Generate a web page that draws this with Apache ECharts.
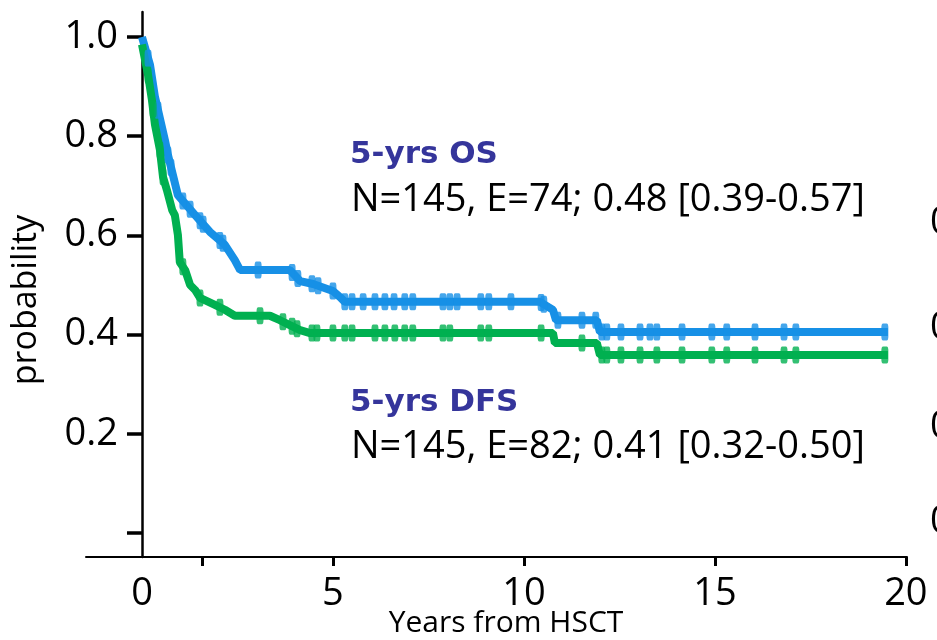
<!DOCTYPE html>
<html>
<head>
<meta charset="utf-8">
<script src="https://cdn.jsdelivr.net/npm/echarts@6/dist/echarts.min.js"></script>
<style>html,body{margin:0;padding:0;background:#fff}#c{width:937px;height:640px}</style>
</head>
<body>
<div id="c"></div>
<script>
// ---- data ----
var osTime  = [0, 0.21, 0.34, 0.6, 0.68, 0.94, 1.39, 1.78, 2.17, 2.43, 2.57, 3.87, 4.14, 4.48, 5.0, 5.18, 5.31, 10.42, 10.76, 10.84, 11.91, 11.99, 19.53];
var osSurv  = [1.0, 0.944, 0.879, 0.792, 0.762, 0.681, 0.641, 0.607, 0.581, 0.550, 0.530, 0.530, 0.508, 0.502, 0.488, 0.476, 0.466, 0.466, 0.450, 0.429, 0.429, 0.405, 0.405];
var dfsTime = [0, 0.16, 0.26, 0.34, 0.47, 0.55, 0.65, 0.79, 0.86, 0.94, 0.99, 1.13, 1.26, 1.39, 1.52, 1.91, 2.17, 2.43, 3.35, 3.61, 3.87, 4.14, 4.40, 10.76, 10.81, 11.91, 11.99, 19.53];
var dfsSurv = [0.985, 0.923, 0.873, 0.823, 0.772, 0.718, 0.692, 0.651, 0.641, 0.601, 0.546, 0.530, 0.500, 0.490, 0.474, 0.460, 0.450, 0.438, 0.438, 0.429, 0.419, 0.409, 0.403, 0.403, 0.383, 0.383, 0.359, 0.359];
var osCensor  = [0.16, 0.42, 0.68, 0.76, 1.07, 1.26, 1.52, 1.60, 2.04, 2.12, 3.04, 3.93, 4.08, 4.45, 4.61, 5.0, 5.31, 5.50, 5.79, 6.10, 6.36, 6.60, 6.88, 7.09, 7.88, 8.06, 8.25, 8.87, 9.08, 9.66, 10.45, 10.52, 10.89, 11.52, 11.88, 12.04, 12.17, 12.54, 13.04, 13.30, 13.48, 14.14, 14.92, 15.31, 16.05, 16.81, 17.12, 19.45];
var dfsCensor = [0.16, 0.29, 0.47, 0.55, 1.07, 1.52, 2.04, 3.09, 3.69, 3.93, 4.06, 4.45, 4.58, 5.0, 5.31, 5.50, 6.10, 6.36, 6.62, 6.88, 7.09, 7.88, 8.06, 8.87, 9.08, 10.45, 11.52, 12.04, 12.17, 12.54, 13.04, 13.48, 14.14, 14.92, 15.31, 16.05, 16.81, 17.12, 19.45];
var xTickValues  = [1.57, 5, 10, 15, 20];
var xLabelValues = [0, 5, 10, 15, 20];
var yTickValues  = [0, 0.2, 0.4, 0.6, 0.8, 1.0];
var yLabelValues = [0.2, 0.4, 0.6, 0.8, 1.0];
var osTitle  = '5-yrs OS';
var osText   = 'N=145, E=74; 0.48 [0.39-0.57]';
var dfsTitle = '5-yrs DFS';
var dfsText  = 'N=145, E=82; 0.41 [0.32-0.50]';
var xName = 'Years from HSCT';
var yName = 'probability';

function pairs(t, s) { return t.map(function (v, i) { return [v, s[i]]; }); }
function valueAt(t, s, x) {
  for (var i = 0; i < t.length - 1; i++) {
    if (x >= t[i] && x <= t[i + 1]) {
      var f = (t[i + 1] - t[i]) === 0 ? 0 : (x - t[i]) / (t[i + 1] - t[i]);
      return s[i] + f * (s[i + 1] - s[i]);
    }
  }
  return s[s.length - 1];
}
function censorPts(c, t, s) { return c.map(function (x) { return [x, valueAt(t, s, x)]; }); }

var BLUE = '#1790e6', GREEN = '#00b050', TXT = '#35359b';
var FONT = '"Open Sans", "Liberation Sans", sans-serif';

var chart = echarts.init(document.getElementById('c'), null, { renderer: 'canvas' });
chart.setOption({
  animation: false,
  backgroundColor: '#fff',
  grid: { left: 86, right: 30, top: 12, bottom: 83, containLabel: false },
  xAxis: {
    type: 'value', min: -1.466, max: 20.03,
    splitLine: { show: false },
    axisLine: { onZero: false, lineStyle: { color: '#000', width: 2 } },
    axisTick: { show: true, customValues: xTickValues, length: 9, lineStyle: { color: '#000', width: 3 } },
    axisLabel: { customValues: xLabelValues, color: '#000', fontSize: 38, fontFamily: FONT, margin: 18 }
  },
  yAxis: {
    type: 'value', min: -0.0484, max: 1.0504,
    splitLine: { show: false },
    axisLine: { onZero: true, lineStyle: { color: '#000', width: 2.5 } },
    axisTick: { show: true, customValues: yTickValues, length: 15, lineStyle: { color: '#000', width: 3.5 } },
    axisLabel: { customValues: yLabelValues, color: '#000', fontSize: 38, fontFamily: FONT, margin: -32,
      formatter: function (v) { return v.toFixed(1); } }
  },
  series: [
    { type: 'line', data: pairs(osTime, osSurv), showSymbol: false, lineStyle: { color: BLUE, width: 8 }, z: 3 },
    { type: 'line', data: pairs(dfsTime, dfsSurv), showSymbol: false, lineStyle: { color: GREEN, width: 8 }, z: 3 },
    { type: 'scatter', data: censorPts(osCensor, osTime, osSurv), symbol: 'roundRect', symbolSize: [7, 17], itemStyle: { color: BLUE }, z: 4 },
    { type: 'scatter', data: censorPts(dfsCensor, dfsTime, dfsSurv), symbol: 'roundRect', symbolSize: [7, 17], itemStyle: { color: GREEN }, z: 4 }
  ],
  graphic: [
    { type: 'text', left: 350, top: 139, style: { text: osTitle, fill: TXT, font: 'bold 31px "DejaVu Sans"' } },
    { type: 'text', left: 351, top: 181, style: { text: osText, fill: '#000', font: '38px ' + FONT } },
    { type: 'text', left: 350, top: 387, style: { text: dfsTitle, fill: TXT, font: 'bold 31px "DejaVu Sans"' } },
    { type: 'text', left: 351, top: 428, style: { text: dfsText, fill: '#000', font: '38px ' + FONT } },
    { type: 'text', x: 26, y: 300, rotation: Math.PI / 2, style: { text: yName, fill: '#000', font: '34px ' + FONT, align: 'center', verticalAlign: 'middle' } },
    { type: 'text', x: 506, y: 623, style: { text: xName, fill: '#000', font: '30px ' + FONT, align: 'center', verticalAlign: 'middle' } },
    { type: 'text', x: 930, y: 223, style: { text: '0', fill: '#000', font: '38px ' + FONT, verticalAlign: 'middle' } },
    { type: 'text', x: 930, y: 328, style: { text: '0', fill: '#000', font: '38px ' + FONT, verticalAlign: 'middle' } },
    { type: 'text', x: 930, y: 427, style: { text: '0', fill: '#000', font: '38px ' + FONT, verticalAlign: 'middle' } },
    { type: 'text', x: 930, y: 522, style: { text: '0', fill: '#000', font: '38px ' + FONT, verticalAlign: 'middle' } }
  ]
});
</script>
</body>
</html>
